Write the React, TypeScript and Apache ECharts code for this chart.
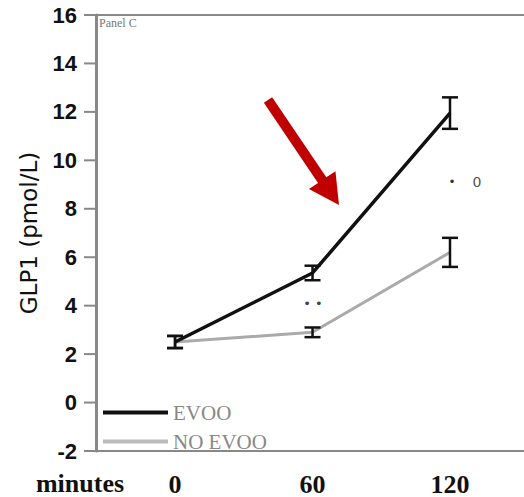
import React, { useEffect, useRef } from "react";
import * as echarts from "echarts";

const minutes = [0, 60, 120];
const evooMean = [2.5, 5.35, 11.95];
const evooErr = [0.25, 0.3, 0.65];
const noEvooMean = [2.5, 2.9, 6.2];
const noEvooErr = [0.25, 0.2, 0.6];
const xTickLabels = [0, 60, 120];
const yTicks = [-2, 0, 2, 4, 6, 8, 10, 12, 14, 16];
const seriesNames = ["EVOO", "NO EVOO"];
const X_MIN = -34.5;
const X_MAX = 152.3;

function errData(mean: number[], err: number[]) {
  return minutes.map((m, i) => [m, mean[i] - err[i], mean[i] + err[i]]);
}

function renderErr(params: any, api: any) {
  const x = api.value(0);
  const lo = api.value(1);
  const hi = api.value(2);
  const top = api.coord([x, hi]);
  const bot = api.coord([x, lo]);
  const w = 8;
  const st = { stroke: "#111", lineWidth: 2.5 };
  return {
    type: "group",
    children: [
      { type: "line", shape: { x1: top[0], y1: top[1], x2: bot[0], y2: bot[1] }, style: st },
      { type: "line", shape: { x1: top[0] - w, y1: top[1], x2: top[0] + w, y2: top[1] }, style: st },
      { type: "line", shape: { x1: bot[0] - w, y1: bot[1], x2: bot[0] + w, y2: bot[1] }, style: st },
    ],
  };
}

function renderTick(params: any, api: any) {
  const c = api.coord([X_MIN, api.value(0)]);
  return {
    type: "line",
    shape: { x1: c[0] - 12, y1: c[1], x2: c[0], y2: c[1] },
    style: { stroke: "#888", lineWidth: 2 },
  };
}

export default function App() {
  const ref = useRef<HTMLDivElement>(null);
  useEffect(() => {
    if (!ref.current) return;
    const chart = echarts.init(ref.current, null, { renderer: "svg" });
    const S = [268, 100];
    const T = [339, 205];
    const dx = T[0] - S[0];
    const dy = T[1] - S[1];
    const L = Math.sqrt(dx * dx + dy * dy);
    const u = [dx / L, dy / L];
    const p = [u[1], -u[0]];
    const B = [T[0] - 30 * u[0], T[1] - 30 * u[1]];
    const pt = (c: number[], k: number) => [c[0] + k * p[0], c[1] + k * p[1]];
    const arrowPts = [pt(S, 5), pt(B, 5), pt(B, 16), T, pt(B, -16), pt(B, -5), pt(S, -5)];

    chart.setOption({
      animation: false,
      grid: { left: 96, right: 0, top: 15, bottom: 46 },
      xAxis: {
        type: "value",
        min: X_MIN,
        max: X_MAX,
        splitLine: { show: false },
        axisLine: { onZero: false, lineStyle: { color: "#888", width: 2 } },
        axisTick: { show: false },
        axisLabel: {
          customValues: xTickLabels,
          color: "#111",
          fontFamily: "Liberation Serif",
          fontWeight: "bold",
          fontSize: 26,
          margin: 20,
        },
      },
      yAxis: {
        type: "value",
        min: -2,
        max: 16,
        interval: 2,
        name: "GLP1 (pmol/L)",
        nameLocation: "middle",
        nameGap: 56,
        nameTextStyle: { fontFamily: "DejaVu Sans", fontSize: 23, color: "#111" },
        splitLine: { show: false },
        axisLine: { show: true, onZero: false, lineStyle: { color: "#888", width: 3 } },
        axisTick: { show: false },
        axisLabel: {
          color: "#111",
          fontFamily: "Liberation Sans",
          fontWeight: "bold",
          fontSize: 22,
          margin: 19,
        },
      },
      legend: {
        orient: "vertical",
        left: 103,
        top: 402,
        padding: 0,
        itemGap: 8,
        itemWidth: 65,
        itemHeight: 4,
        data: seriesNames.map((n) => ({ name: n, icon: "rect" })),
        textStyle: { fontFamily: "Liberation Serif", fontSize: 21, color: "#888", lineHeight: 21 },
      },
      series: [
        {
          name: seriesNames[0],
          type: "line",
          data: minutes.map((m, i) => [m, evooMean[i]]),
          symbol: "none",
          lineStyle: { color: "#111", width: 3.5 },
          itemStyle: { color: "#111" },
          z: 3,
        },
        {
          name: seriesNames[1],
          type: "line",
          data: minutes.map((m, i) => [m, noEvooMean[i]]),
          symbol: "none",
          lineStyle: { color: "#aaa", width: 3 },
          itemStyle: { color: "#bbb" },
          z: 2,
        },
        {
          type: "custom",
          renderItem: renderErr,
          data: errData(evooMean, evooErr),
          z: 4,
        },
        {
          type: "custom",
          renderItem: renderErr,
          data: errData(noEvooMean, noEvooErr),
          z: 4,
        },
        {
          type: "custom",
          renderItem: renderTick,
          data: yTicks.map((v) => [v]),
          clip: false,
          z: 5,
        },
      ],
      graphic: [
        { type: "line", shape: { x1: 84, y1: 15, x2: 524, y2: 15 }, style: { stroke: "#888", lineWidth: 2 } },
        {
          type: "text",
          x: 99,
          y: 23,
          style: { text: "Panel C", font: "12px Liberation Serif", fill: "#777", textVerticalAlign: "middle" },
        },
        {
          type: "text",
          x: 80,
          y: 483,
          style: {
            text: "minutes",
            font: "bold 26px Liberation Serif",
            fill: "#111",
            textAlign: "center",
            textVerticalAlign: "middle",
          },
        },
        {
          type: "text",
          x: 313,
          y: 303,
          style: { text: "• •", font: "13px DejaVu Sans", fill: "#444", textAlign: "center", textVerticalAlign: "middle" },
        },
        {
          type: "text",
          x: 452,
          y: 182,
          style: { text: "•", font: "12px DejaVu Sans", fill: "#333", textAlign: "center", textVerticalAlign: "middle" },
        },
        {
          type: "text",
          x: 477,
          y: 182,
          style: { text: "0", font: "14px DejaVu Sans", fill: "#555", textAlign: "center", textVerticalAlign: "middle" },
        },
        { type: "polygon", shape: { points: arrowPts }, style: { fill: "#c00000" }, z: 10 },
      ],
    });
    return () => chart.dispose();
  }, []);
  return <div ref={ref} style={{ width: 524, height: 497, position: "absolute", left: 0, top: 0 }} />;
}
